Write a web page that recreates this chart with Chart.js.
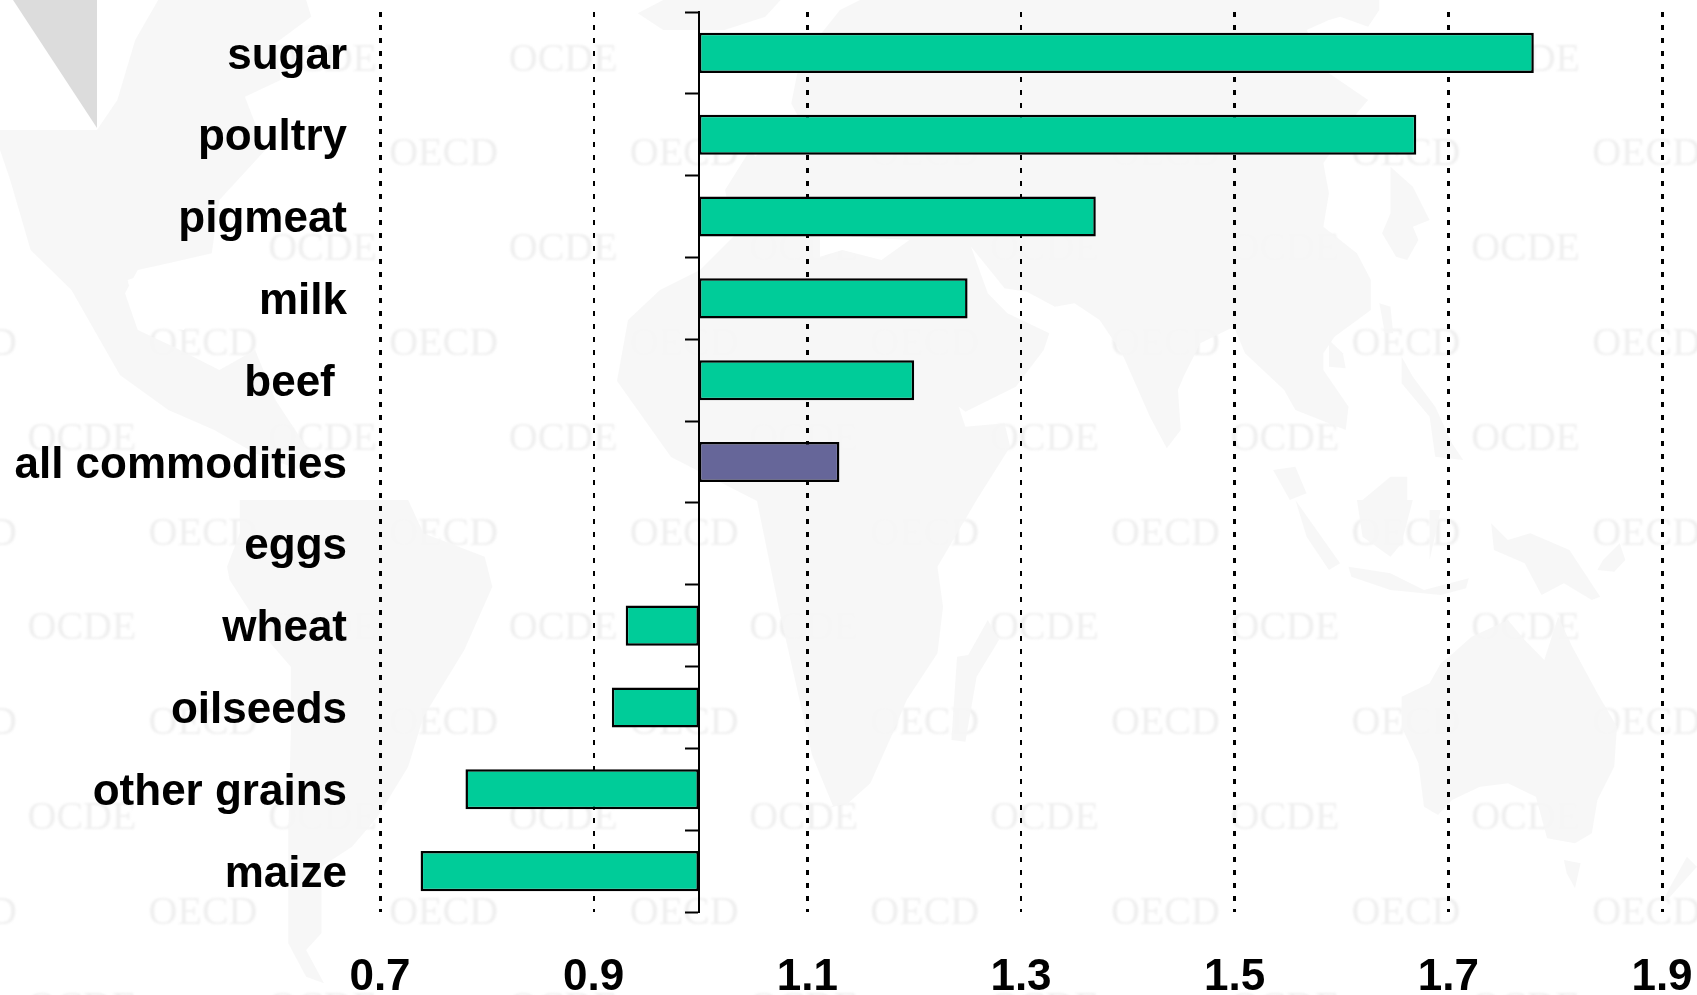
<!DOCTYPE html>
<html>
<head>
<meta charset="utf-8">
<style>html,body{margin:0;padding:0;background:#fff}#w{position:relative;width:1697px;height:995px}</style>
<script src="https://cdn.jsdelivr.net/npm/chart.js@4"></script>
</head>
<body>
<div id="w"><canvas id="c" role="img" aria-label="Horizontal bars around 1.0 for agricultural commodities, from sugar at 1.78 to maize at 0.74"></canvas></div>
<script>
const categories = ['sugar','poultry','pigmeat','milk','beef ','all commodities','eggs','wheat','oilseeds','other grains','maize'];
const values = [1.78,1.67,1.37,1.25,1.20,1.13,1.00,0.93,0.917,0.78,0.738];
const highlighted = ['all commodities'];
const thinGridValues = ['0.9','1.3'];
const baseline = 0.9985;

const GREEN = '#00CC99', PURPLE = '#666699', FONT = '"Liberation Sans", Arial, sans-serif';

// Faint decorative world map backdrop (outline sketches, independent of the data)
const fz1 = p => p.map(([a,b]) => [a/1.96, b/3]);
const fz2 = p => p.map(([a,b]) => [a/1.96, 500 + b/3]);
const fz5 = p => p.map(([a,b]) => [820 + a/1.788, b/3]);
const fz6 = p => p.map(([a,b]) => [820 + a/1.788, 500 + b/3]);
const land = [
  fz1([[0,390],[190,390],[230,300],[265,120],[310,0],[600,0],[610,50],[540,130],[550,240],[480,290],[520,450],[430,600],[415,760],[330,790],[270,810],[245,880],[270,990],[340,1040],[430,1110],[500,1050],[540,1200],[600,1340],[640,1440],[500,1360],[420,1290],[330,1230],[235,1125],[140,870],[60,750],[20,540],[0,450]]),
  fz2([[470,0],[800,0],[830,100],[950,170],[965,260],[910,450],[830,650],[800,800],[740,950],[690,1040],[630,1100],[630,1300],[600,1350],[635,1450],[600,1430],[565,1330],[565,1000],[570,700],[570,500],[530,430],[450,240],[445,200],[470,100]]),
  fz1([[1250,40],[1300,0],[1530,0],[1500,50],[1420,90],[1300,90]]),
  [[617,381],[628,320],[660,290],[700,270],[735,235],[725,190],[750,150],[790,110],[800,60],[840,10],[860,0],
   ...fz5([[1000,0],[1000,30],[980,80],[930,50],[910,60],[870,90],[910,220],[980,300],[960,340],[900,490],[910,580],[900,680],[960,760],[985,840],[985,930],[920,1010],[900,1060],[900,1110],[945,1220],[940,1290],[850,1230],[830,1170],[760,1060],[740,980],[680,1030],[650,1130],[640,1170],[645,1290],[620,1345],[590,1250],[540,1060],[500,960],[455,910],[420,920],[370,875],[330,865],[270,740],[300,880],[335,940],[410,1000],[400,1050],[350,1160],[260,1235],[240,1210],[180,980],[240,1180],[260,1280],[330,1270],[340,1340],[280,1500]]),
   ...fz6([[280,0],[210,200],[220,320],[210,460],[155,600],[130,700],[90,850],[50,910],[0,930]]),
   [833,806],[812,755],[779,609],[757,501],[671,457]],
  fz6([[1125,470],[1165,410],[1230,360],[1260,420],[1295,480],[1320,350],[1345,440],[1390,580],[1425,680],[1420,800],[1390,900],[1380,1000],[1350,1030],[1300,1015],[1280,890],[1230,850],[1180,860],[1130,900],[1105,945],[1080,920],[1070,790],[1040,680],[1040,590],[1090,550],[1110,490]]),
  fz6([[300,360],[320,420],[280,530],[260,725],[235,720],[245,470],[265,465]]),
  fz6([[850,0],[930,190],[910,210],[870,110]]),
  fz6([[960,0],[1060,0],[1040,130],[1020,170],[970,110]]),
  fz6([[945,200],[1020,220],[1080,270],[1160,235],[1155,265],[1110,285],[1020,270],[950,230]]),
  fz6([[1090,30],[1110,30],[1090,180]]),
  fz6([[1200,70],[1230,120],[1270,100],[1340,150],[1395,290],[1380,300],[1330,250],[1290,285],[1260,190],[1205,150]]),
  fz6([[1400,180],[1430,130],[1440,180],[1420,215],[1390,210]]),
  fz5([[1000,910],[1020,920],[1025,1000],[1010,1000]]),
  fz5([[910,1020],[935,1060],[940,1105],[910,1100]]),
  fz5([[1020,500],[1060,560],[1090,660],[1060,680],[1070,720],[1050,780],[1030,770],[1005,700],[1020,640]]),
  fz5([[1040,1070],[1060,1130],[1100,1220],[1130,1330],[1150,1380],[1100,1370],[1090,1250],[1040,1150]]),
  fz5([[810,1410],[850,1400],[870,1480],[840,1500]]),
  fz5([[970,1500],[1020,1430],[1050,1430],[1050,1500]]),
  fz6([[1330,1080],[1360,1090],[1350,1165],[1335,1120]]),
  fz6([[1550,1070],[1568,1100],[1520,1190],[1505,1210],[1520,1160]])
];
const seas = [
  fz1([[1440,230],[1530,250],[1568,360],[1480,470],[1440,330]]),
  fz5([[0,700],[60,710],[160,720],[110,780],[40,750],[0,770]]),
  fz1([[250,840],[330,800],[410,900],[360,990],[270,960]])
];

const backdrop = {
  id: 'backdrop',
  beforeDraw(chart) {
    const ctx = chart.ctx;
    ctx.save();
    ctx.fillStyle = '#fff';
    ctx.fillRect(0, 0, 1697, 995);
    ctx.filter = 'blur(0.8px)';
    ctx.font = '40px "Liberation Serif", serif';
    ctx.textAlign = 'center';
    ctx.textBaseline = 'middle';
    ctx.fillStyle = '#efefef';
    for (let r = 0; r < 11; r++) {
      const isOcde = r % 2 === 0;
      const y = 60 + r * 94.8;
      for (let k = -1; k < 7; k++) {
        const x = (isOcde ? 82 : 203) + k * 240.6;
        if (y < 270 && x < 230) continue;
        ctx.fillText(isOcde ? 'OCDE' : 'OECD', x, y);
      }
    }
    ctx.filter = 'none';
    ctx.globalAlpha = 0.88;
    ctx.fillStyle = '#f6f6f6';
    land.forEach(p => {
      ctx.beginPath();
      p.forEach(([a,b], i) => i ? ctx.lineTo(a,b) : ctx.moveTo(a,b));
      ctx.closePath();
      ctx.fill();
    });
    ctx.globalAlpha = 1;
    ctx.fillStyle = '#fff';
    seas.forEach(p => {
      ctx.beginPath();
      p.forEach(([a,b], i) => i ? ctx.lineTo(a,b) : ctx.moveTo(a,b));
      ctx.closePath();
      ctx.fill();
    });
    ctx.fillRect(0, 0, 97, 129);
    ctx.fillStyle = '#dcdcdc';
    ctx.beginPath();
    ctx.moveTo(13, 0); ctx.lineTo(97, 0); ctx.lineTo(97, 128); ctx.closePath();
    ctx.fill();
    ctx.restore();
  }
};

const isThin = ctx => ctx.tick && thinGridValues.includes(Number(ctx.tick.value).toFixed(1));
const noPad = s => { s.paddingLeft = s.paddingRight = s.paddingTop = s.paddingBottom = 0; };
const isFlat = i => values[i] === 1;

new Chart(document.getElementById('c'), {
  type: 'bar',
  plugins: [backdrop],
  data: {
    labels: categories,
    datasets: [{
      data: values,
      base: baseline,
      backgroundColor: ctx => isFlat(ctx.dataIndex) ? 'rgba(0,0,0,0)' : highlighted.includes(categories[ctx.dataIndex]) ? PURPLE : GREEN,
      borderColor: '#000',
      borderWidth: ctx => isFlat(ctx.dataIndex) ? 0 : 2.5,
      borderSkipped: false,
      categoryPercentage: 1,
      barPercentage: 0.49
    }]
  },
  options: {
    indexAxis: 'y',
    responsive: true,
    maintainAspectRatio: false,
    animation: false,
    layout: { padding: { top: 12, right: 35, left: 0, bottom: 0 } },
    plugins: { legend: { display: false }, tooltip: { enabled: false }, title: { display: false } },
    scales: {
      x: {
        type: 'linear',
        min: 0.7,
        max: 1.9,
        afterFit: s => { s.height = 83; noPad(s); },
        ticks: {
          stepSize: 0.2,
          autoSkip: false,
          maxRotation: 0,
          padding: 39,
          color: '#000',
          font: { family: FONT, size: 44, weight: 'bold' },
          callback: v => Number(v).toFixed(1)
        },
        grid: {
          drawTicks: false,
          color: '#000',
          lineWidth: ctx => isThin(ctx) ? 2 : 3
        },
        border: { display: false, dash: [5, 8] }
      },
      y: {
        type: 'category',
        position: 'left',
        afterFit: s => { s.width = 380; noPad(s); },
        ticks: {
          autoSkip: false,
          padding: 33,
          labelOffset: 3.5,
          color: '#000',
          font: { family: FONT, size: 44, weight: 'bold' }
        },
        grid: { display: false, drawTicks: false },
        border: { display: false }
      },
      y2: {
        type: 'category',
        axis: 'y',
        labels: categories,
        position: { x: baseline },
        offset: true,
        z: 1,
        afterFit: noPad,
        ticks: { display: false },
        grid: { offset: true, drawOnChartArea: false, drawTicks: true, tickLength: 13, tickColor: '#000', tickWidth: 2, color: '#000' },
        border: { display: true, color: '#000', width: 2 }
      }
    }
  }
});
</script>
</body>
</html>
